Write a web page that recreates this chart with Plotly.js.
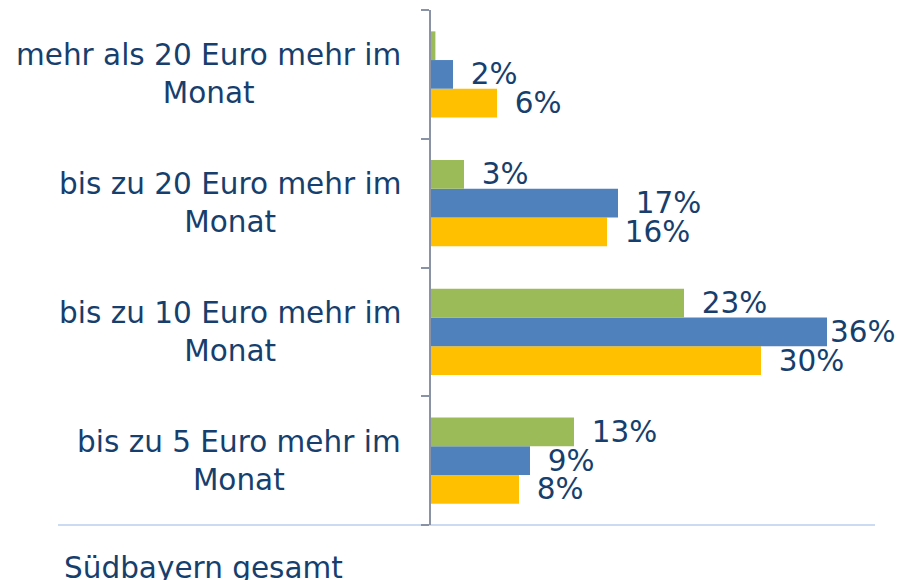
<!DOCTYPE html>
<html>
<head>
<meta charset="utf-8">
<script src="https://cdn.plot.ly/plotly-3.0.1.min.js"></script>
<style>html,body{margin:0;padding:0;background:#fff;}#chart{width:899px;height:580px;}</style>
</head>
<body>
<div id="chart"></div>
<script>
// Categories, bottom to top
var categories = [
  "bis zu 5 Euro mehr im<br>Monat",
  "bis zu 10 Euro mehr im<br>Monat",
  "bis zu 20 Euro mehr im<br>Monat",
  "mehr als 20 Euro mehr im<br>Monat"
];
var greenValues = [13, 23, 3, 0.4];
var blueValues = [9, 36, 17, 2];
var yellowValues = [8, 30, 16, 6];
var footerLabel = "Südbayern gesamt";

var textColor = "#173f6e";
var fontFamily = "DejaVu Sans, Verdana, sans-serif";
var fontSize = 29.5;
var maxVal = Math.max.apply(null, blueValues.concat(greenValues, yellowValues));

function labels(vals) {
  return vals.map(function (v) {
    if (v < 1) return "";
    return (v === maxVal ? "" : "\u2002") + v + "%";
  });
}

function barTrace(vals, color) {
  return {
    type: "bar",
    orientation: "h",
    y: categories,
    x: vals,
    text: labels(vals),
    textposition: "outside",
    constraintext: "none",
    cliponaxis: false,
    textfont: {family: fontFamily, size: fontSize, color: textColor},
    marker: {color: color},
    hoverinfo: "none"
  };
}

var data = [
  barTrace(yellowValues, "#FFC000"),
  barTrace(blueValues, "#4F81BD"),
  barTrace(greenValues, "#9BBB59")
];

var annotations = categories.map(function (c) {
  return {
    xref: "paper", yref: "y",
    x: -28 / 440, y: c,
    xanchor: "right", yanchor: "middle",
    align: "center",
    showarrow: false,
    text: c,
    font: {family: fontFamily, size: fontSize, color: textColor}
  };
});
annotations.push({
  xref: "paper", yref: "paper",
  x: (62 - 431) / 440, y: -43 / 515,
  xanchor: "left", yanchor: "middle",
  showarrow: false,
  text: footerLabel,
  font: {family: fontFamily, size: fontSize, color: textColor}
});

var layout = {
  width: 899,
  height: 580,
  margin: {l: 431, r: 28, t: 10, b: 55},
  paper_bgcolor: "#ffffff",
  plot_bgcolor: "#ffffff",
  barmode: "group",
  bargap: 0.332,
  bargroupgap: 0,
  showlegend: false,
  xaxis: {
    range: [0, 40],
    showticklabels: false,
    showgrid: false,
    zeroline: false,
    showline: false,
    ticks: ""
  },
  yaxis: {
    type: "category",
    showticklabels: false,
    showgrid: false,
    zeroline: false,
    showline: true,
    linecolor: "#8a93a6",
    linewidth: 2,
    ticks: "outside",
    tickson: "boundaries",
    ticklen: 8,
    tickwidth: 2,
    tickcolor: "#8a93a6"
  },
  shapes: [{
    type: "line",
    xref: "paper", yref: "paper",
    x0: (58 - 431) / 440, x1: (875 - 431) / 440,
    y0: 0, y1: 0,
    line: {color: "#b9cfee", width: 1.5},
    layer: "below"
  }],
  annotations: annotations
};

Plotly.newPlot("chart", data, layout, {staticPlot: true, displayModeBar: false});
</script>
</body>
</html>
